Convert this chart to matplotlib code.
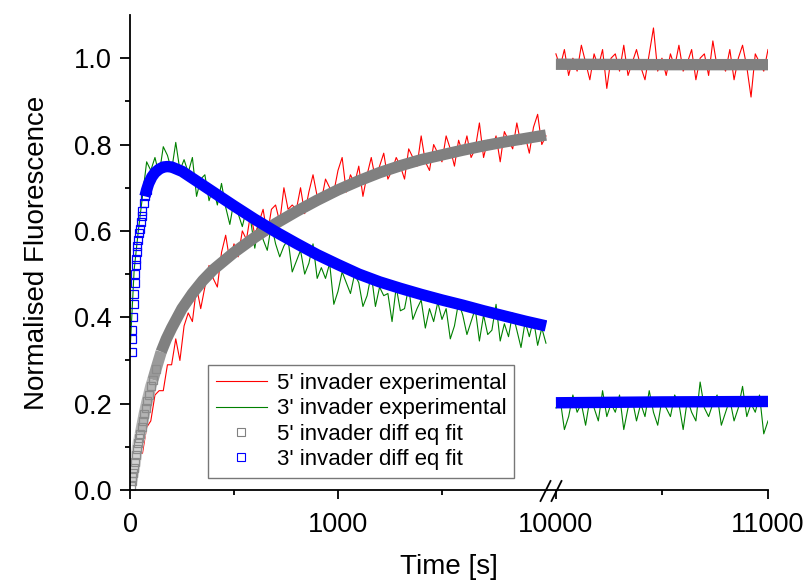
import matplotlib
matplotlib.use('Agg')
import matplotlib.pyplot as plt
from matplotlib.lines import Line2D
import numpy as np

plt.rcParams['font.family'] = ['Liberation Sans', 'DejaVu Sans']

# experimental traces, left part of the broken axis (0-2000 s, every 20 s)
t_left = np.arange(0, 2001, 20)
red_left = [0.01, 0.025, 0.085, 0.085, 0.145, 0.16, 0.22, 0.23, 0.23, 0.29,
            0.29, 0.35, 0.30, 0.38, 0.41, 0.39, 0.47, 0.42, 0.47, 0.52,
            0.49, 0.47, 0.55, 0.59, 0.53, 0.57, 0.54, 0.60, 0.58, 0.64,
            0.59, 0.62, 0.65, 0.59, 0.65, 0.66, 0.62, 0.70, 0.65, 0.66,
            0.65, 0.70, 0.64, 0.69, 0.73, 0.68, 0.67, 0.72, 0.70, 0.69,
            0.74, 0.77, 0.69, 0.73, 0.71, 0.75, 0.68, 0.73, 0.77, 0.72,
            0.75, 0.78, 0.72, 0.74, 0.77, 0.75, 0.72, 0.79, 0.77, 0.75,
            0.82, 0.76, 0.74, 0.80, 0.78, 0.76, 0.82, 0.79, 0.75, 0.81,
            0.78, 0.82, 0.77, 0.79, 0.85, 0.77, 0.81, 0.79, 0.82, 0.76,
            0.83, 0.81, 0.79, 0.85, 0.80, 0.82, 0.78, 0.84, 0.87, 0.80,
            0.82]
green_left = [0.32, 0.51, 0.60, 0.68, 0.76, 0.74, 0.77, 0.73, 0.795, 0.775,
              0.74, 0.805, 0.74, 0.765, 0.735, 0.77, 0.68, 0.72, 0.73, 0.67,
              0.70, 0.66, 0.71, 0.655, 0.615, 0.67, 0.64, 0.61, 0.65, 0.625,
              0.56, 0.62, 0.58, 0.555, 0.615, 0.57, 0.54, 0.565, 0.58, 0.505,
              0.53, 0.555, 0.50, 0.525, 0.57, 0.49, 0.515, 0.49, 0.525, 0.43,
              0.46, 0.505, 0.48, 0.455, 0.50, 0.48, 0.425, 0.45, 0.50, 0.425,
              0.47, 0.45, 0.455, 0.39, 0.47, 0.415, 0.42, 0.47, 0.395, 0.42,
              0.44, 0.375, 0.42, 0.39, 0.435, 0.395, 0.42, 0.35, 0.38, 0.435,
              0.405, 0.36, 0.39, 0.42, 0.345, 0.405, 0.36, 0.37, 0.43, 0.345,
              0.385, 0.355, 0.41, 0.37, 0.33, 0.39, 0.355, 0.395, 0.335, 0.375,
              0.34]

# experimental traces, right part (10000-11000 s)
t_right = np.arange(10000, 11001, 20)
red_right = [1.01, 0.98, 1.02, 0.96, 1.00, 0.97, 1.03, 0.99, 0.95, 1.01,
             0.98, 1.02, 0.93, 1.00, 1.01, 0.97, 1.03, 0.96, 0.99, 1.02,
             0.98, 0.95, 1.01, 1.07, 0.97, 1.00, 0.96, 1.01, 0.98, 1.03,
             0.97, 0.99, 1.02, 0.95, 1.00, 1.01, 0.96, 1.04, 0.98, 0.99,
             0.97, 1.02, 0.95, 1.00, 1.03, 0.98, 0.91, 1.01, 0.99, 0.97,
             1.02]
green_right = [0.19, 0.21, 0.14, 0.17, 0.22, 0.18, 0.20, 0.15, 0.21, 0.19,
               0.16, 0.23, 0.17, 0.20, 0.18, 0.22, 0.14, 0.19, 0.21, 0.16,
               0.20, 0.17, 0.23, 0.18, 0.15, 0.21, 0.19, 0.17, 0.22, 0.20,
               0.14, 0.21, 0.18, 0.16, 0.25, 0.19, 0.17, 0.20, 0.22, 0.15,
               0.18, 0.21, 0.16, 0.19, 0.24, 0.17, 0.20, 0.18, 0.22, 0.13,
               0.16]

# differential equation fits
t_fit5 = [4, 8, 12, 16, 20, 25, 30, 35, 40, 45, 50, 56, 62, 68, 75, 82, 90,
          100, 110, 125, 150, 175, 200, 250, 300, 350, 400, 500, 600, 700, 800,
          900, 1000, 1100, 1200, 1300, 1400, 1500, 1600, 1700, 1800, 1900, 2000]
fit5 = [0.01, 0.02, 0.03, 0.04, 0.05, 0.065, 0.08, 0.095, 0.11, 0.12, 0.13,
        0.145, 0.16, 0.175, 0.19, 0.205, 0.22, 0.24, 0.255, 0.28, 0.32, 0.35,
        0.375, 0.42, 0.455, 0.485, 0.51, 0.55, 0.585, 0.617, 0.645, 0.671,
        0.695, 0.716, 0.735, 0.751, 0.765, 0.776, 0.787, 0.797, 0.806, 0.814,
        0.822]
t_fit3 = [8, 10, 12, 15, 18, 20, 22, 24, 27, 30, 33, 36, 40, 44, 48, 52, 56,
          60, 66, 72, 80, 90, 105, 120, 140, 160, 180, 200, 250, 300, 400, 500,
          600, 700, 800, 900, 1000, 1100, 1200, 1300, 1400, 1500, 1600, 1700,
          1800, 1900, 2000]
fit3 = [0.32, 0.35, 0.37, 0.40, 0.43, 0.455, 0.48, 0.50, 0.52, 0.535, 0.55,
        0.565, 0.58, 0.595, 0.605, 0.62, 0.635, 0.645, 0.665, 0.68, 0.695,
        0.71, 0.725, 0.735, 0.743, 0.748, 0.749, 0.748, 0.738, 0.722, 0.69,
        0.658, 0.627, 0.598, 0.571, 0.545, 0.522, 0.50, 0.482, 0.467, 0.453,
        0.44, 0.428, 0.415, 0.403, 0.391, 0.38]
t_fit_right = [10000, 10500, 11000]
fit5_right = [0.986, 0.985, 0.985]
fit3_right = [0.202, 0.204, 0.205]

fig = plt.figure(figsize=(8.11, 5.81), dpi=100)
W, H = 811, 581
x0, xb, x1 = 130, 547, 768
ytop, ybot = 15, 490
ax1 = fig.add_axes([x0 / W, (H - ybot) / H, (xb - x0) / W, (ybot - ytop) / H])
ax2 = fig.add_axes([xb / W, (H - ybot) / H, (x1 - xb) / W, (ybot - ytop) / H])

fit_lw = 8.2
sq = dict(ls='none', marker='s', ms=6.3, mfc='none', mew=0.9)


def band(ax, t, y, t_from, t_to, color):
    i, j = t.index(t_from), t.index(t_to)
    ax.plot(t[i:j + 1], y[i:j + 1], color=color, lw=fit_lw, solid_capstyle='butt')


for ax, t, r, g in [(ax1, t_left, red_left, green_left),
                    (ax2, t_right, red_right, green_right)]:
    ax.plot(t, r, color='red', lw=0.8)
    ax.plot(t, g, color='green', lw=0.8)

# 5' fit: open squares where the curve is steep, merging into a solid band
band(ax1, t_fit5, fit5, 4, 50, '#d2d2d2')
band(ax1, t_fit5, fit5, 50, 110, '#b4b4b4')
band(ax1, t_fit5, fit5, 110, 150, '#9a9a9a')
k5 = t_fit5.index(125)
ax1.plot(t_fit5[:k5 + 1], fit5[:k5 + 1], mec='#8c8c8c', **sq)
band(ax1, t_fit5, fit5, 150, 2000, 'gray')

# 3' fit
band(ax1, t_fit3, fit3, 72, 2000, 'blue')
k3 = t_fit3.index(80)
ax1.plot(t_fit3[:k3 + 1], fit3[:k3 + 1], mec='blue', **sq)

ax2.plot(t_fit_right, fit5_right, color='gray', lw=fit_lw, solid_capstyle='butt')
ax2.plot(t_fit_right, fit3_right, color='blue', lw=fit_lw, solid_capstyle='butt')

for ax in (ax1, ax2):
    ax.set_ylim(0, 1.1)
    ax.spines['top'].set_visible(False)
    ax.spines['right'].set_visible(False)
    ax.spines['bottom'].set_linewidth(1.3)
    ax.spines['left'].set_linewidth(1.3)
    ax.tick_params(which='major', direction='out', length=6.5, width=1.3, labelsize=19.5)
    ax.tick_params(which='minor', direction='out', length=3.5, width=1.3)
    ax.tick_params(axis='x', which='major', pad=9)

ax1.tick_params(axis='y', which='major', length=7, pad=6)
ax1.set_xlim(0, 2005)
ax1.set_xticks([0, 1000])
ax1.set_xticks([500, 1500], minor=True)
ax1.set_yticks([0.0, 0.2, 0.4, 0.6, 0.8, 1.0])
ax1.set_yticklabels(['0.0', '0.2', '0.4', '0.6', '0.8', '1.0'])
ax1.set_yticks([0.1, 0.3, 0.5, 0.7, 0.9], minor=True)
ax1.set_ylabel('Normalised Fluorescence', fontsize=20, labelpad=17)

ax2.set_xlim(9958, 11000)
ax2.set_xticks([10000, 11000])
ax2.set_xticks([10500], minor=True)
ax2.spines['left'].set_visible(False)
ax2.set_yticks([])

# axis break marks
for xa, xb2 in [(540.5, 550.5), (551.5, 561.5)]:
    fig.add_artist(Line2D([xa / W, xb2 / W], [(H - 501) / H, (H - 481) / H],
                          color='black', lw=1.3, transform=fig.transFigure))

fig.text(449 / W, (H - 567) / H, 'Time [s]', fontsize=20, ha='center', va='center')

handles = [Line2D([], [], color='red', lw=0.8),
           Line2D([], [], color='green', lw=0.8),
           Line2D([], [], ls='none', marker='s', ms=5.5, mfc='none', mec='gray', mew=0.8),
           Line2D([], [], ls='none', marker='s', ms=5.5, mfc='none', mec='blue', mew=0.8)]
labels = ["5' invader experimental", "3' invader experimental",
          "5' invader diff eq fit", "3' invader diff eq fit"]
leg = fig.legend(handles, labels, loc='lower left',
                 bbox_to_anchor=(208 / W, (H - 478) / H), fontsize=16,
                 frameon=True, fancybox=False, edgecolor='#555555',
                 borderpad=0.35, labelspacing=0.2, handlelength=2.3,
                 handletextpad=0.45, borderaxespad=0)
leg.get_frame().set_linewidth(1.0)

fig.savefig('out.png', dpi=100)
